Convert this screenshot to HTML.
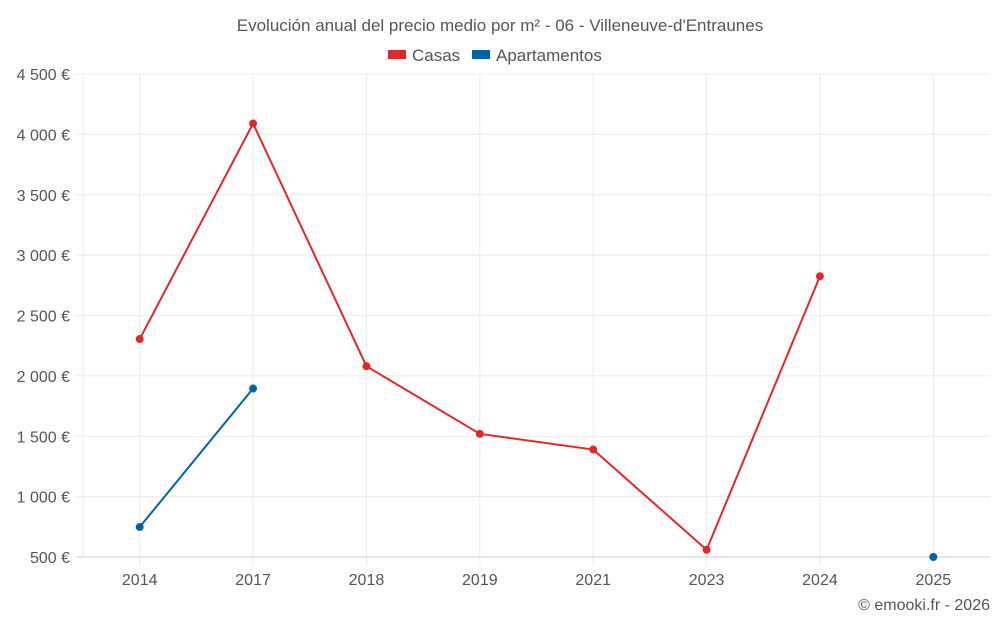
<!DOCTYPE html>
<html><head><meta charset="utf-8"><style>
body{margin:0;background:#fff;font-family:"Liberation Sans",sans-serif;}
svg text{font-family:"Liberation Sans",sans-serif;fill:#555;}
</style></head><body>
<svg id="c" width="1000" height="625">
<text x="500" y="31" text-anchor="middle" font-size="17">Evolución anual del precio medio por m² - 06 - Villeneuve-d'Entraunes</text>
<g>
<g><rect x="388" y="50" width="18" height="9" fill="#dd2a2a"/><text x="412" y="61" font-size="17">Casas</text></g>
<g><rect x="472" y="50" width="18" height="9" fill="#0063a0"/><text x="496" y="61" font-size="17">Apartamentos</text></g>
</g>
<g id="grid"></g><g id="marks"></g>
<text x="990" y="610" text-anchor="end" font-size="16">© emooki.fr - 2026</text>
</svg>
<script>
const categories=["2014","2017","2018","2019","2021","2023","2024","2025"];
const casas=[2305,4090,2080,1520,1390,560,2825,null];
const apartamentos=[748,1895,null,null,null,null,null,500];
const yTicks=[500,1000,1500,2000,2500,3000,3500,4000,4500];
const yTickLabels=["500 €","1 000 €","1 500 €","2 000 €","2 500 €","3 000 €","3 500 €","4 000 €","4 500 €"];
const L=83,R=990,T=74,B=557,yMin=500,yMax=4500;
const bw=(R-L)/categories.length;
const x=i=>L+bw*(i+0.5);
const y=v=>B-(v-yMin)/(yMax-yMin)*(B-T);
const ns="http://www.w3.org/2000/svg";
const g=document.getElementById('grid'),m=document.getElementById('marks');
function mk(tag,attrs,parent){const e=document.createElementNS(ns,tag);for(const k in attrs)e.setAttribute(k,attrs[k]);parent.appendChild(e);return e;}
const edge=mk('line',{x1:L,x2:L,y1:T,y2:B,stroke:'#ebebeb'},g);


categories.forEach((c,i)=>{
 const l=mk('line',{x1:x(i),x2:x(i),y1:T,y2:B+9,stroke:'#ebebeb'},g);
 
 
 const tx=mk('text',{x:x(i),y:585,'text-anchor':'middle','font-size':16},g);tx.textContent=c;
 
 
});
yTicks.forEach((t,i)=>{
 const l=mk('line',{x1:L-7,x2:R,y1:y(t),y2:y(t),stroke:i==0?'#ccc':'#ebebeb'},g);
 
 
 const tx=mk('text',{x:70,y:y(t)+6,'text-anchor':'end','font-size':16},g);tx.textContent=yTickLabels[i];
 
 
});
function series(vals,color,name){
 let d='',pen=false;
 vals.forEach((v,i)=>{if(v==null){pen=false;return;}d+=(pen?'L':'M')+x(i)+' '+y(v)+' ';pen=true;});
 const p=mk('path',{d:d,fill:'none',stroke:color,'stroke-width':2},m);
 
 
 vals.forEach((v,i)=>{if(v==null)return;
  const c=mk('circle',{cx:x(i),cy:y(v),r:4,fill:color},m);
  
  
 });
}
series(casas,'#dd2a2a','casas');
series(apartamentos,'#0063a0','apartamentos');
</script>
</body></html>
